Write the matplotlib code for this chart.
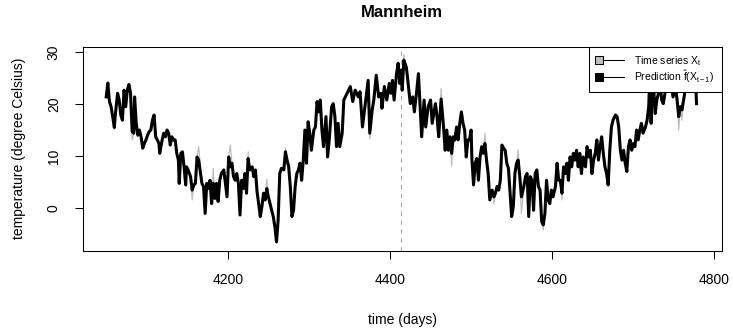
import matplotlib
matplotlib.use("Agg")
import matplotlib.pyplot as plt
from matplotlib.lines import Line2D
from matplotlib.legend_handler import HandlerLine2D

plt.rcParams["font.family"] = ["Liberation Sans", "DejaVu Sans"]
plt.rcParams["mathtext.fontset"] = "custom"
plt.rcParams["mathtext.rm"] = "Liberation Sans"
plt.rcParams["mathtext.it"] = "Liberation Sans"
plt.rcParams["mathtext.bf"] = "Liberation Sans:bold"

STATION = "Mannheim"
SPLIT_DAY = 4414  # start of the forecast window

# day index of each sample
days = [
    4050, 4052, 4054, 4056, 4058, 4060, 4061, 4064, 4066, 4068,
    4070, 4072, 4074, 4076, 4078, 4080, 4082, 4084, 4085, 4087,
    4089, 4091, 4093, 4095, 4097, 4099, 4101, 4103, 4105, 4107,
    4109, 4111, 4113, 4115, 4116, 4119, 4121, 4123, 4125, 4127,
    4129, 4131, 4133, 4135, 4137, 4139, 4140, 4142, 4144, 4146,
    4148, 4149, 4151, 4154, 4156, 4158, 4160, 4162, 4164,
    4168, 4170, 4172, 4174, 4176, 4178, 4180, 4182, 4184, 4186,
    4188, 4190, 4192, 4195, 4197, 4199, 4201, 4203, 4205, 4207,
    4209, 4211, 4213, 4215, 4217, 4219, 4221, 4223, 4225, 4227,
    4230, 4232, 4234, 4236, 4238, 4240, 4242, 4244, 4246, 4248,
    4250, 4252, 4254, 4256, 4258, 4260, 4262, 4264, 4266, 4269,
    4271, 4273, 4275, 4277, 4279, 4281, 4283, 4285, 4287, 4289,
    4291, 4293, 4295, 4297, 4299, 4301, 4303, 4306, 4308, 4310,
    4312,
    4314, 4316, 4318, 4321, 4323, 4325, 4328, 4330, 4332, 4334,
    4336, 4338, 4341, 4343, 4347, 4351, 4354, 4357, 4361, 4363,
    4366, 4369, 4373, 4375, 4378, 4380, 4383, 4386, 4389, 4390,
    4393, 4396, 4399, 4401, 4403, 4405, 4408, 4410, 4412, 4414,
    4415, 4417, 4420, 4421, 4425, 4428, 4430, 4433, 4435, 4439,
    4442, 4444, 4447, 4450, 4452, 4456, 4458, 4460,
    4463, 4466, 4468, 4470, 4472, 4474, 4476, 4478, 4480, 4482,
    4484, 4486, 4488, 4490, 4492, 4494, 4496, 4498, 4500, 4501,
    4503, 4505, 4507, 4509, 4511, 4513, 4515, 4517, 4519, 4521,
    4523, 4526, 4528, 4530, 4532, 4534, 4536, 4538, 4540, 4542,
    4544, 4546, 4548, 4550, 4552, 4554, 4556, 4558, 4560, 4562,
    4565, 4567, 4569, 4571, 4573, 4575, 4577, 4579, 4581, 4583,
    4585, 4587, 4589, 4591, 4593, 4595, 4597, 4599, 4601, 4604,
    4606, 4608,
    4610, 4612, 4614, 4616, 4618, 4620, 4622, 4624, 4626, 4628,
    4630, 4632, 4634, 4636, 4638, 4641, 4643, 4645, 4647, 4649,
    4651, 4653, 4655, 4657, 4659, 4661, 4663, 4665, 4667, 4669,
    4671, 4673, 4675, 4678, 4680, 4682, 4684, 4686, 4688, 4690,
    4692, 4694, 4696, 4698, 4700, 4702, 4704, 4706, 4708, 4710,
    4712, 4715, 4717, 4719, 4720, 4722, 4723, 4725, 4727, 4729,
    4731, 4733, 4735, 4737, 4739, 4741, 4743, 4745, 4747, 4749,
    4752, 4754, 4756, 4758, 4760, 4762, 4764, 4766, 4768, 4770,
    4772, 4774, 4776, 4778,
]

# one-step-ahead prediction f(X_{t-1})
predicted = [
    21.4, 24.1, 20.5, 19.5, 17.6, 15.5, 17.6, 22.1, 20.8, 17.9,
    16.9, 22.7, 19.5, 22.7, 23.8, 22.1, 14.7, 14.4, 21.4, 16.3,
    14.0, 15.0, 13.7, 11.5, 12.4, 13.1, 14.0, 14.7, 15.0, 16.9,
    17.9, 13.7, 13.1, 12.4, 10.5, 13.1, 14.4, 13.7, 15.0, 14.4,
    12.1, 13.7, 13.1, 13.1, 10.5, 9.2, 4.7, 10.5, 10.8, 7.9,
    4.4, 7.9, 7.3, 6.0, 3.4, 4.4, 4.7, 9.8, 9.2,
    4.7, 4.1, -1.1, 4.7, 3.7, 5.3, 0.8, 4.7, 1.8, 4.7,
    1.2, 5.3, 6.6, 7.3, 4.7, 2.1, 9.8, 7.9, 8.6, 6.0,
    5.3, 6.6, 4.7, -1.4, 5.3, 3.7, 6.6, 2.8, 9.5, 7.3,
    7.9, 6.0, 7.3, 3.1, 0.8, -1.7, 0.2, 2.8, 1.5, 3.7,
    2.1, 0.8, -0.5, -1.7, -3.7, -6.6, -2.4, 6.6, 7.6, 7.3,
    10.8, 9.2, 7.9, 4.1, -1.7, -0.5, 4.1, 6.6, 7.3, 8.6,
    5.3, 9.2, 15.0, 8.6, 16.6, 14.4, 11.1, 15.0, 15.6, 20.5,
    18.5,
    20.8, 15.0, 11.8, 17.6, 9.8, 13.1, 19.5, 20.1, 17.6, 11.8,
    16.3, 11.8, 14.4, 20.8, 22.1, 23.4, 20.5, 22.7, 21.4, 22.4,
    15.6, 19.5, 24.6, 14.4, 18.9, 20.8, 25.6, 21.4, 22.1, 19.2,
    23.4, 20.8, 24.0, 22.1, 24.6, 20.8, 25.9, 27.9, 24.0, 26.6,
    22.7, 28.5, 27.2, 25.9, 20.1, 21.4, 18.5, 22.7, 25.9, 13.7,
    20.8, 15.6, 19.5, 20.8, 16.3, 20.1, 17.6, 13.7,
    21.0, 15.6, 11.1, 15.0, 11.1, 13.7, 10.5, 13.7, 13.1, 15.6,
    13.1, 16.3, 18.5, 16.3, 15.0, 9.8, 13.1, 13.1, 15.0, 9.2,
    4.4, 8.6, 9.5, 5.3, 9.8, 11.8, 10.5, 12.4, 9.2, 6.6,
    1.5, 3.4, 2.1, 2.8, 4.1, 3.4, 5.3, 12.1, 11.5, 11.1,
    8.6, 7.6, 2.8, -1.7, 0.2, 6.6, 8.6, 9.2, 6.0, 2.1,
    4.1, 6.0, 6.6, -1.7, 6.0, 5.3, -0.5, 6.6, 7.3, 4.1,
    3.4, -2.7, -3.3, -1.1, 5.3, 1.5, 0.8, 3.4, 2.1, 4.1,
    8.6, 5.3,
    5.3, 2.8, 7.9, 6.6, 8.6, 5.3, 9.8, 7.9, 10.5, 9.2,
    11.1, 7.9, 10.5, 6.6, 9.8, 7.9, 11.8, 9.8, 11.1, 6.6,
    9.2, 10.5, 13.1, 9.2, 11.8, 13.7, 10.5, 7.9, 6.6, 4.4,
    11.1, 15.6, 16.9, 17.9, 17.6, 15.6, 11.1, 9.2, 11.1, 8.6,
    7.0, 11.8, 13.1, 11.1, 12.4, 11.8, 15.0, 13.1, 15.0, 16.3,
    14.4, 15.6, 16.9, 19.5, 24.0, 16.3, 21.4, 23.4, 18.2, 20.8,
    22.1, 24.0, 20.8, 20.1, 22.1, 24.0, 26.0, 23.0, 23.4, 21.4,
    23.4, 20.8, 17.6, 19.5, 18.9, 20.8, 22.7, 23.4, 24.0, 25.3,
    27.5, 24.5, 27.0, 20.1,
]

# observed daily temperature X_t
observed = [
    21.4, 24.1, 20.5, 19.5, 17.6, 15.0, 17.6, 22.1, 20.8, 17.9,
    16.9, 22.7, 19.5, 22.7, 23.8, 22.1, 13.1, 14.4, 21.4, 16.3,
    14.0, 15.0, 13.7, 11.5, 12.4, 13.1, 14.0, 14.7, 15.0, 16.9,
    17.9, 13.7, 13.1, 12.4, 10.5, 13.1, 14.4, 13.7, 15.0, 14.4,
    12.1, 13.7, 13.1, 13.1, 10.5, 9.2, 4.7, 10.5, 10.8, 7.9,
    4.4, 7.9, 7.3, 6.0, 1.5, 4.4, 4.7, 9.8, 11.8,
    4.7, 4.1, -1.1, 4.7, 3.7, 5.3, 0.8, 7.6, 1.8, 4.7,
    1.2, 5.3, 6.6, 7.3, 4.7, 2.1, 9.8, 12.1, 8.6, 6.0,
    5.3, 6.6, 4.7, -1.4, 5.3, 3.7, 6.6, 2.8, 10.8, 7.3,
    7.9, 6.0, 7.3, 3.1, 0.8, -1.7, 0.2, 2.8, 1.5, 5.5,
    2.1, 0.8, -0.5, -1.7, -3.7, -6.8, -2.4, 6.6, 7.6, 7.3,
    11.5, 9.2, 7.9, 4.1, -1.7, -0.5, 4.1, 6.6, 7.3, 8.6,
    5.3, 9.2, 15.0, 8.6, 16.6, 14.4, 11.1, 15.0, 15.6, 20.5,
    18.5,
    20.8, 15.0, 11.8, 17.6, 9.8, 13.1, 19.5, 20.1, 17.6, 11.8,
    16.3, 11.8, 14.4, 20.8, 22.1, 23.4, 20.5, 22.7, 21.4, 22.4,
    15.6, 19.5, 24.6, 13.3, 18.9, 20.8, 25.6, 21.4, 22.1, 19.2,
    23.4, 20.8, 24.0, 22.1, 24.6, 20.8, 25.9, 27.9, 24.0, 26.6,
    22.7, 29.6, 27.2, 25.9, 20.1, 21.4, 18.5, 22.7, 25.9, 13.7,
    20.8, 15.6, 19.5, 20.8, 16.3, 20.1, 15.6, 13.7,
    23.0, 15.6, 11.1, 15.0, 11.1, 13.7, 8.0, 13.7, 13.1, 15.6,
    13.1, 16.3, 18.5, 16.3, 15.0, 9.8, 13.1, 13.1, 15.0, 9.2,
    4.4, 8.6, 9.5, 5.3, 9.8, 11.8, 10.5, 14.4, 9.2, 6.6,
    1.5, 3.4, 0.8, 2.8, 4.1, 3.4, 5.3, 12.1, 11.5, 11.1,
    8.6, 7.6, 2.8, -1.7, 0.2, 6.6, 8.6, 11.1, 6.0, -1.1,
    4.1, 6.0, 6.6, -1.7, 6.0, 5.3, -0.5, 6.6, 7.3, 4.1,
    3.4, -2.7, -4.3, -1.1, 5.3, 1.5, 0.8, 3.4, 2.1, 4.1,
    8.6, 5.3,
    5.3, 1.5, 7.9, 6.6, 8.6, 5.3, 9.8, 7.9, 10.5, 9.2,
    11.1, 7.9, 10.5, 6.6, 9.8, 7.9, 11.8, 9.8, 11.1, 6.6,
    9.2, 10.5, 13.1, 9.2, 11.8, 13.7, 10.5, 7.9, 6.6, 4.4,
    11.1, 15.6, 16.9, 17.9, 17.6, 15.6, 11.1, 9.2, 11.1, 8.6,
    7.0, 11.8, 13.1, 11.1, 12.4, 11.8, 15.0, 13.1, 15.0, 16.3,
    14.4, 15.6, 16.9, 19.5, 24.0, 16.3, 21.4, 23.4, 18.2, 20.8,
    22.1, 24.0, 20.8, 20.1, 22.1, 24.0, 26.0, 23.0, 23.4, 21.4,
    23.4, 20.8, 15.0, 19.5, 16.9, 20.8, 22.7, 23.4, 24.0, 25.3,
    27.5, 24.5, 27.0, 20.1,
]

x_ticks = [4200, 4400, 4600, 4800]
y_ticks = [0, 10, 20, 30]


class LeftMarkerHandler(HandlerLine2D):
    # legend key: square on the left end of a short line
    def create_artists(self, *args, **kwargs):
        artists = super().create_artists(*args, **kwargs)
        for a in artists:
            a.set_markevery([0])
        return artists


W, H = 733, 336
fig = plt.figure(figsize=(W / 100, H / 100), dpi=100)
ax = fig.add_axes([82.7 / W, 1 - 250.7 / H, (721.7 - 82.7) / W, (250.7 - 46.7) / H])

ax.plot(days, observed, color="#BEBEBE", lw=0.9, zorder=2)
ax.plot(days, predicted, color="black", lw=2.2, zorder=3, solid_joinstyle="round")
ax.axvline(SPLIT_DAY, color="#AAAAAA", lw=0.8, linestyle=(0, (4, 4)), zorder=1)

ax.set_xlim(4021, 4809)
ax.set_ylim(-8.3, 31.1)
ax.set_xticks(x_ticks)
ax.set_yticks(y_ticks)
ax.tick_params(direction="out", length=5.8, width=0.75, pad=10, labelsize=10)
plt.setp(ax.get_yticklabels(), rotation=90, va="center")
for s in ax.spines.values():
    s.set_linewidth(0.75)

ax.set_title(STATION, fontsize=12, fontweight="bold", pad=21.5)
ax.set_xlabel("time (days)", fontsize=10, labelpad=19)
ax.set_ylabel("temperature (degree Celsius)", fontsize=10, labelpad=15)

handles = [
    Line2D([], [], color="black", lw=0.75, marker="s", markersize=5.5,
           markerfacecolor="#BEBEBE", markeredgecolor="black",
           markeredgewidth=0.75),
    Line2D([], [], color="black", lw=0.75, marker="s", markersize=5.5,
           markerfacecolor="black", markeredgecolor="black",
           markeredgewidth=0.75),
]
leg = ax.legend(handles, [r"Time series $X_t$", r"Prediction $\hat{f}(X_{t-1})$"],
                handler_map={Line2D: LeftMarkerHandler(numpoints=2)},
                loc="upper right", borderaxespad=0, fontsize=7.5,
                handlelength=3.0, handletextpad=0.65, borderpad=0.7,
                labelspacing=0.05, fancybox=False, framealpha=1,
                edgecolor="black")
leg.get_frame().set_linewidth(0.75)
leg.set_zorder(5)

fig.savefig("out.png", dpi=100)
